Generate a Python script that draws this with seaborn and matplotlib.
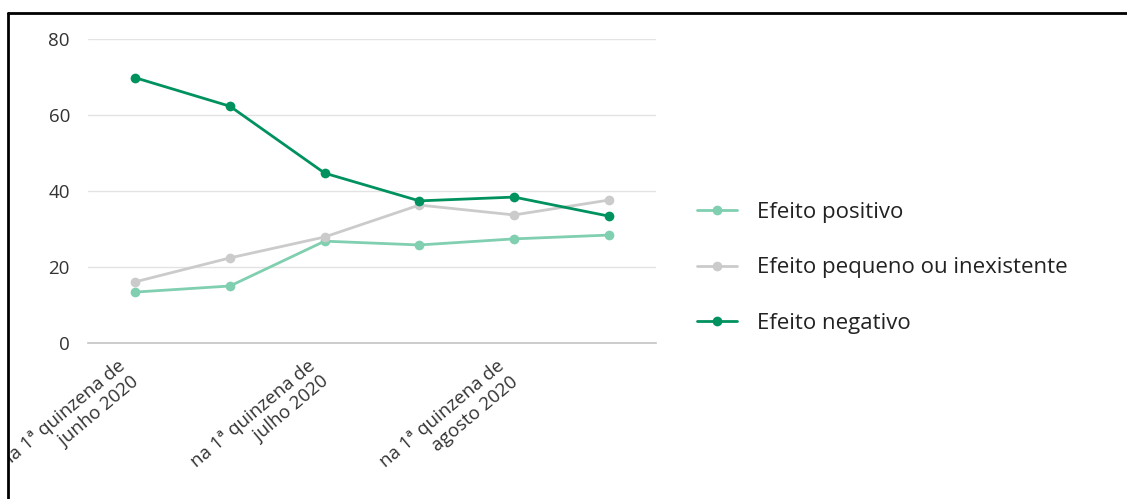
import matplotlib
matplotlib.use("Agg")
import matplotlib.pyplot as plt
import matplotlib.lines as mlines
import matplotlib.patches as mpatches
import matplotlib.transforms as mtransforms
import pandas as pd
import seaborn as sns

# Data
periods = ["jun-1", "jun-2", "jul-1", "jul-2", "ago-1", "ago-2"]
tick_labels = ["na 1ª quinzena de\njunho 2020", "na 1ª quinzena de\njulho 2020",
               "na 1ª quinzena de\nagosto 2020"]
series_names = ["Efeito positivo", "Efeito pequeno ou inexistente", "Efeito negativo"]
positivo = [13.4, 15.0, 26.8, 25.8, 27.4, 28.4]
pequeno = [16.1, 22.4, 27.9, 36.3, 33.7, 37.6]
negativo = [69.8, 62.3, 44.7, 37.4, 38.4, 33.4]
colors = ["#80cfb1", "#cbcbcb", "#00925e"]

rows = []
for name, vals in zip(series_names, [positivo, pequeno, negativo]):
    for i, v in enumerate(vals):
        rows.append({"x": i, "valor": v, "serie": name})
df = pd.DataFrame(rows)

sns.set_style("white")
plt.rcParams["font.family"] = ["Open Sans", "DejaVu Sans"]

fig = plt.figure(figsize=(11.27, 4.99), dpi=100)
ax = fig.add_axes([88 / 1127, 1 - 343 / 499, (656 - 88) / 1127, (343 - 39) / 499])

sns.lineplot(data=df, x="x", y="valor", hue="serie", hue_order=series_names,
             palette=colors, marker="o", markersize=7, markeredgewidth=0,
             linewidth=2, ax=ax, legend=False)

ax.set_xlim(-0.5, 5.5)
ax.set_ylim(0, 80)
ax.set_yticks([0, 20, 40, 60, 80])
ax.set_xticks([0, 2, 4])
ax.set_xticklabels(tick_labels, rotation=40, ha="right", va="top",
                   rotation_mode="anchor", multialignment="right")
ax.set_xlabel("")
ax.set_ylabel("")
ax.grid(axis="y", color="#e3e3e3", linewidth=1)
ax.set_axisbelow(True)
for s in ["top", "right", "left"]:
    ax.spines[s].set_visible(False)
ax.spines["bottom"].set_color("#c4c4c4")
ax.spines["bottom"].set_linewidth(1.2)
ax.tick_params(axis="y", length=0, pad=13, labelsize=13.5, labelcolor="#333333")
ax.tick_params(axis="x", length=5, width=1, color="#c4c4c4", pad=5,
               labelsize=13.5, labelcolor="#333333")

# nudge the rotated labels left so their ends sit under the ticks
shift = mtransforms.ScaledTranslation(-18 / 100, 0, fig.dpi_scale_trans)
for lab in ax.get_xticklabels():
    lab.set_transform(lab.get_transform() + shift)

handles = [mlines.Line2D([], [], color=c, marker="o", markersize=7,
                         markeredgewidth=0, linewidth=2) for c in colors]
fig.legend(handles, series_names, loc="center left",
           bbox_to_anchor=(697 / 1127, 1 - 268 / 499), frameon=False,
           fontsize=16, handlelength=1.8, handletextpad=0.9, labelspacing=1.55,
           borderpad=0, borderaxespad=0, labelcolor="#222222")

# outer frame (top and left edges), with the outside area masked
fig.patches.append(mpatches.Rectangle((0, 0), 8 / 1127, 1, transform=fig.transFigure,
                                      facecolor="white", edgecolor="none", zorder=10))
fig.patches.append(mpatches.Rectangle((0, 1 - 12 / 499), 1, 12 / 499,
                                      transform=fig.transFigure, facecolor="white",
                                      edgecolor="none", zorder=10))
fig.add_artist(mlines.Line2D([8 / 1127, 8 / 1127], [0, 1 - 13 / 499],
                             transform=fig.transFigure, color="black", linewidth=2,
                             zorder=11))
fig.add_artist(mlines.Line2D([8 / 1127, 1], [1 - 13 / 499, 1 - 13 / 499],
                             transform=fig.transFigure, color="black", linewidth=2,
                             zorder=11))

fig.savefig("out.png", dpi=100)
